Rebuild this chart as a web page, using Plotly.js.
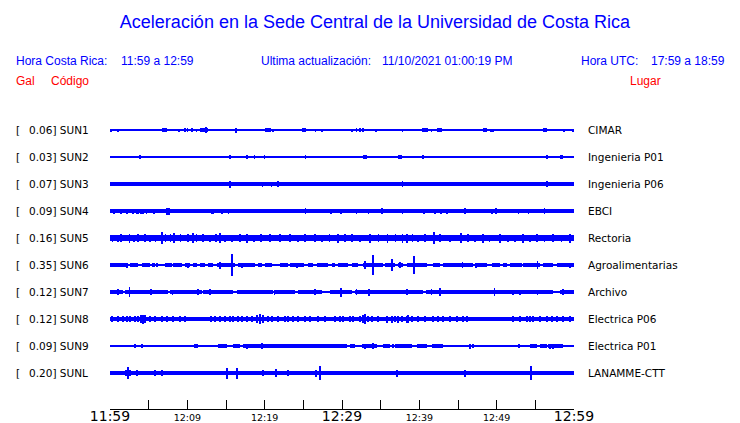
<!DOCTYPE html>
<html><head><meta charset="utf-8">
<script src="https://cdn.plot.ly/plotly-3.0.1.min.js"></script>
<style>html,body{margin:0;padding:0;background:#fff;}#chart{width:740px;height:423px;}</style>
</head><body><div id="chart"></div>
<script>
// ---- data ----
const codes = ['SUN1','SUN2','SUN3','SUN4','SUN5','SUN6','SUN7','SUN8','SUN9','SUNL'];
const peakGal = [0.06,0.03,0.07,0.09,0.16,0.35,0.12,0.12,0.09,0.20];
const places = ['CIMAR','Ingenieria P01','Ingenieria P06','EBCI','Rectoria','Agroalimentarias','Archivo','Electrica P06','Electrica P01','LANAMME-CTT'];
const tickMinutes = [0,5,10,15,20,25,30,35,40,45,50,55,60];
const tickLabels = ['11:59','','12:09','','12:19','','12:29','','12:39','','12:49','','12:59'];
const bigLabels = ['11:59','12:29','12:59'];
// continuous noise band level of each record (0 = quiet line)
const noiseLevel = [0,0,1.8,1.9,2.7,0,0,2.1,0,1.8];
// envelope events: [minutes after 11:59, half amplitude, duration in minutes (optional)]
const SUN1 = [[0.1,1.5],[1.0,1.5],[3.5,1.2],[4.8,1.2],[7.1,2,0.65],[8.4,1.2],[8.9,1.5],[9.7,1.8],[10.0,1.8],[10.3,1.2],[10.6,1.8],[11.2,1.5],[12.2,2,1.0],[12.4,3],[12.8,1.2],[14.5,1.2],[16.3,2.5],[20.4,2,0.8],[21.1,1.5],[21.7,1.2],[25.1,1.8,0.6],[26.6,1.5],[27.2,1.2],[27.4,1.5],[29.7,1.2],[31.3,1.5],[31.9,1.8],[32.3,1.8],[32.7,1.8],[34.4,1.5],[37.8,1.5],[38.0,1.2],[40.7,2,0.8],[41.6,1.5],[42.6,2,0.6],[48.5,1.8,0.5],[48.7,2],[49.3,1.5],[49.5,1.5],[56.2,1.8,0.5],[57.0,1.2],[58.1,1.2],[58.7,1.5],[59.1,1.2],[59.9,1.5]];
const SUN2 = [[3.9,1.8],[15.5,1.8],[16.9,1.2],[17.7,1.8],[18.7,1.8],[19.7,1.2],[20.0,1.8],[20.9,1.2],[21.5,1.2],[21.9,1.2],[24.2,1.2],[25.3,1.8],[30.3,1.2],[31.6,1.2],[33.0,1.8,0.5],[33.5,1.2],[33.9,1.2],[34.5,1.2],[37.5,1.8,0.4],[38.5,1.2],[38.9,1.2],[40.5,1.8,0.3],[46.7,1.2],[46.9,1.2],[48.0,1.2],[54.2,1.2],[56.5,1.8],[56.8,1.2],[57.3,1.2],[57.8,1.2],[58.4,1.8,0.4]];
const SUN3 = [[15.5,3.5],[19.7,2.5,0.2],[20.9,2.5],[21.7,3],[37.8,3],[56.5,3]];
const SUN4 = [[0.5,2.5],[1.4,2.5],[2.2,2.5],[3.0,2.5],[3.4,2.5],[3.6,2.5],[4.0,2.5],[4.3,2.5],[4.7,2.5],[5.7,2.5],[7.5,3.5,0.4],[13.2,2.5,0.4],[14.5,2.5],[15.3,2.5],[25.3,3],[28.6,2.5],[29.9,2.5],[31.9,2.5],[33.4,2.5],[35.2,3],[37.8,2.5],[40.6,2.5],[42.0,2.5],[42.8,2.5],[43.6,2.5],[45.9,3],[49.4,2.5],[49.9,3],[52.8,2.5],[54.1,2.5],[56.2,3]];
const SUN5 = [[0.3,3.5],[1.0,3.5],[1.4,4],[2.5,4.5],[3.1,3.5],[3.6,4],[4.5,4],[5.2,3.5],[5.9,3.5],[6.7,6],[7.2,4],[7.8,4],[8.3,5],[9.1,4],[10.1,4],[10.7,5],[11.2,4],[12.0,4],[12.9,3.5],[13.7,4],[14.2,5],[14.9,3.5],[15.8,3.5],[16.8,4],[17.7,4.5],[18.6,3.5],[19.5,4],[20.7,4],[22.0,4],[23.3,4],[24.3,3.5],[25.2,4],[26.5,4],[27.4,3.5],[28.4,4],[29.5,4.5],[30.4,4],[31.3,4],[32.3,3.5],[33.6,4.5],[34.7,4],[35.9,4.5],[36.9,4],[37.8,4.5],[38.4,4.5],[39.1,4],[39.8,3.5],[40.7,4],[41.9,6],[42.7,4],[44.0,3.5],[45.4,5],[46.3,4],[47.2,3.5],[48.2,4.5],[49.1,3.5],[50.4,4.5],[51.5,3.5],[52.4,3.5],[53.4,4.5],[54.3,3.5],[55.2,4],[56.2,3.5],[57.3,4],[58.4,3.5],[59.5,4.5],
  [1.8,3.2,0.6],[7.5,3.2,0.8],[10.4,3.2,0.6],[17.2,3.2,0.5],[29.9,3.2,0.6],[34.3,3.2,0.7],[36.4,3.2,0.6],[38.9,3.2,0.8],[45.8,3.2,0.5],[50.9,3.2,0.6],[53.8,3.2,0.6],[58.9,3.2,0.7]];
const SUN6 = [[1.1,1.7,2.2],[3.1,1.7,1.0],[4.7,1.7,1.0],[5.6,1.7,0.4],[6.1,1.7,0.2],[7.6,1.7,0.9],[8.7,1.7,1.2],[10.0,1.7,0.65],[11.0,1.7,0.5],[12.0,1.7,0.65],[13.0,1.7,0.65],[15.0,1.7,2.3],[17.7,1.7,2.2],[19.4,1.7,0.5],[20.5,1.7,0.9],[22.5,1.7,1.0],[24.2,1.7,1.9],[25.9,1.7,0.65],[27.5,1.7,1.4],[28.9,1.7,0.4],[30.1,1.7,1.3],[31.7,1.7,0.8],[34.0,1.7,2.6],[36.2,1.7,1.3],[37.6,1.7,0.65],[39.7,1.7,2.6],[42.2,1.7,0.9],[45.0,1.7,3.9],[48.0,1.7,1.55],[49.9,1.7,1.0],[51.1,1.7,0.5],[52.5,1.7,1.55],[54.5,1.7,2.2],[56.6,1.7,1.3],[59.0,1.7,2.3],
  [2.2,2.5],[10.1,2.5],[14.2,3.5],[15.8,11],[17.1,2.5],[24.2,2.5],[33.0,4],[34.0,10],[36.5,6],[37.5,3],[39.3,9],[45.6,3],[47.3,2.5],[55.3,4],[59.5,2.5]];
const SUN7 = [[0.84,1.8,1.68],[4.72,1.8,5.56],[9.83,1.8,4.14],[13.97,1.8,3.88],[18.75,1.8,4.66],[22.63,1.8,2.59],[25.86,1.8,3.1],[29.87,1.8,2.84],[34.27,1.8,5.17],[38.79,1.8,3.36],[49.07,1.8,16.42],[59.1,1.8,1.81],
  [1.0,3],[2.5,5],[5.3,3],[8.1,2.5],[11.4,3],[12.9,3],[21.3,2.5],[26.5,3],[29.9,4.5],[31.9,3],[33.5,3.5],[37.0,2],[38.4,3],[41.6,3],[42.7,4],[49.7,4],[52.1,2.5],[53.0,2.5],[55.3,2.5],[58.6,3]];
const SUN8 = [[0.26,3],[1.03,3],[1.68,3],[2.2,3],[2.59,3],[3.23,3],[3.62,3],[4.01,4],[4.27,4.5],[4.53,4],[5.17,3],[5.82,3],[6.72,3],[7.37,3],[8.15,3],[9.05,3],[9.7,3],[13.06,3],[13.58,3],[14.22,3],[14.87,3],[15.52,3],[15.9,3],[16.55,3],[17.07,3],[17.72,3],[18.36,3],[19.01,4],[19.4,5],[19.78,4],[20.43,3],[20.95,3],[21.72,3],[22.63,3],[23.02,3],[23.66,3],[24.31,3],[25.22,3],[25.86,3],[26.9,3],[27.8,3],[29.09,3],[29.74,3],[30.13,3],[31.03,3],[31.42,3],[32.33,3],[32.72,4],[32.97,5],[33.36,3],[33.88,3],[34.66,3],[35.82,3.5],[36.47,3.5],[36.85,3],[37.24,3.5],[37.76,3],[38.41,3.5],[38.53,4],[39.05,3],[39.83,3],[40.73,3],[41.77,3],[42.41,3],[43.06,3],[43.97,3],[44.87,3],[45.65,3],[46.16,3],[52.11,3],[53.02,3],[53.92,3],[54.31,3],[54.7,3],[55.6,3],[56.51,3],[57.16,3],[57.8,3],[58.58,3],[59.48,3]];
const SUN9 = [[14.55,1.6,1.16],[16.36,1.6,0.9],[23.92,1.8,13.45],[31.36,1.6,0.65],[33.56,1.8,1.94],[35.75,1.6,0.9],[37.95,1.8,2.2],[40.34,1.6,1.3],[42.35,1.6,1.42],[54.76,1.6,0.9],[56.06,1.6,0.9],[57.61,1.8,1.94],
  [3.23,1.8],[3.62,1.2],[4.14,1.8],[4.53,1.2],[6.47,1.2],[7.76,1.2],[11.12,1.8,0.4],[17.72,2.5],[19.66,3],[24.18,2.2],[25.47,2.2],[32.97,2.5],[34.01,3],[36.59,2.2],[40.47,2.2],[46.55,2.5],[46.94,2],[47.84,1.2],[49.14,1.2],[52.89,1.8,0.3],[56.9,2.5],[57.3,2.5],[58.2,2.2]];
const SUNL = [[2.33,6],[2.3,3.2,0.8],[3.49,3],[5.82,3],[6.72,3],[8.41,2.2],[15.13,5.5],[16.42,5.5],[19.78,3],[21.47,4],[23.02,3],[26.64,3.5],[27.16,7],[30.78,2.2],[33.36,2.2],[37.11,3.5],[42.67,2.2],[45.91,3.5],[48.75,2.2],[52.11,2.2],[54.44,7],[58.06,2.2]];
const waves = [SUN1,SUN2,SUN3,SUN4,SUN5,SUN6,SUN7,SUN8,SUN9,SUNL];

// ---- layout constants ----
const W = 740, H = 423;
const ROW0 = 130, ROW_STEP = 27, AXIS_Y = 409;
const X0 = 110, X1 = 574;
const THIN = 0.65, SPIKE_W = 0.2;
const BLUE = '#0000ff';

const traces = waves.map((ev, i) => {
  const row = ROW0 + ROW_STEP * i;
  const band = Math.max(noiseLevel[i], THIN);
  const x = [30], w = [60], base = [row - band], h = [2 * band];
  ev.forEach(e => {
    x.push(e[0]); w.push(e[2] || SPIKE_W);
    base.push(row - e[1]); h.push(2 * e[1]);
  });
  return {type: 'bar', x: x, y: h, base: base, width: w, name: codes[i],
    marker: {color: BLUE, line: {width: 0}}, hoverinfo: 'skip', showlegend: false};
});

const px = v => v / W;
const lab = {family: 'DejaVu Sans', size: 10.5, color: '#000'};
const hdr = {family: 'Liberation Sans, Arial, sans-serif', size: 12, color: BLUE};
const red = {family: 'Liberation Sans, Arial, sans-serif', size: 12, color: '#ff0000'};
const annotations = [];
codes.forEach((c, i) => {
  const row = ROW0 + ROW_STEP * i;
  annotations.push({xref: 'paper', yref: 'y', x: px(14), y: row, xanchor: 'left', yanchor: 'middle', text: '[', showarrow: false, font: lab});
  annotations.push({xref: 'paper', yref: 'y', x: px(26.5), y: row, xanchor: 'left', yanchor: 'middle', text: peakGal[i].toFixed(2) + '] ' + c, showarrow: false, font: lab});
  annotations.push({xref: 'paper', yref: 'y', x: px(586), y: row, xanchor: 'left', yanchor: 'middle', text: places[i], showarrow: false, font: lab});
});
const hy = v => 1 - v / H;
const headers = [
  ['Hora Costa Rica:', 14, 61, hdr], ['11:59 a 12:59', 119, 61, hdr],
  ['Ultima actualización:', 259, 61, hdr], ['11/10/2021 01:00:19 PM', 380, 61, hdr],
  ['Hora UTC:', 579, 61, hdr], ['17:59 a 18:59', 649, 61, hdr],
  ['Gal', 14, 81, red], ['Código', 49, 81, red], ['Lugar', 628, 81, red]
];
headers.forEach(h => annotations.push({xref: 'paper', yref: 'paper', x: px(h[1]), y: hy(h[2]), xanchor: 'left', yanchor: 'middle', text: h[0], showarrow: false, font: h[3]}));

const tickText = tickLabels.map(t => bigLabels.includes(t) ? '<span style="font-size:14px">' + t + '</span>' : t);

const layout = {
  width: W, height: H, margin: {l: 0, r: 0, t: 0, b: 0},
  paper_bgcolor: '#fff', plot_bgcolor: '#fff',
  barmode: 'overlay', bargap: 0,
  title: {text: 'Aceleración en la Sede Central de la Universidad de Costa Rica', font: {family: 'Liberation Sans, Arial, sans-serif', size: 18, color: BLUE},
    xref: 'paper', x: px(375), xanchor: 'center', yref: 'paper', y: hy(22), yanchor: 'middle'},
  xaxis: {domain: [px(X0), px(X1)], range: [0, 60], tickmode: 'array', tickvals: tickMinutes, ticktext: tickText,
    ticks: 'inside', ticklen: 9, tickwidth: 1, tickcolor: '#000', showline: true, linecolor: '#000', linewidth: 1,
    showgrid: false, zeroline: false, tickfont: {family: 'DejaVu Sans', size: 9.5, color: '#000'}, fixedrange: true},
  yaxis: {domain: [(H - AXIS_Y) / H, 1], range: [AXIS_Y, 0], visible: false, fixedrange: true},
  annotations: annotations
};
Plotly.newPlot('chart', traces, layout, {displayModeBar: false, staticPlot: true});
</script></body></html>
